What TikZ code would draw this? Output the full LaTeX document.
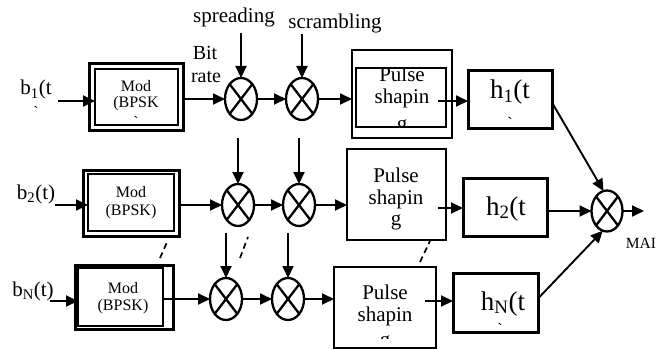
\documentclass[tikz,border=0pt]{standalone}
\usepackage{fontspec}
\setmainfont{Liberation Serif}
\usetikzlibrary{arrows.meta,shapes.geometric}
\newcommand\fmain{\fontsize{21}{25}\selectfont}
\newcommand\fbit{\fontsize{20}{23}\selectfont}
\newcommand\fmod{\fontsize{16}{19}\selectfont}
\newcommand\fhh{\fontsize{27}{30}\selectfont}
\newcommand\fmai{\fontsize{15.5}{18}\selectfont}
\begin{document}
\begin{tikzpicture}[x=1pt,y=-1pt,
  arr/.style={line width=1.9pt,-{Triangle[length=12pt,width=11pt]}},
  dsh/.style={line width=1.7pt,dash pattern=on 6pt off 4pt},
  bx/.style={draw,line width=#1,inner sep=0pt,outer sep=0pt},
  mult/.style={draw,ellipse,line width=2.3pt,minimum width=32pt,minimum height=42pt,inner sep=0pt,outer sep=0pt,
    path picture={\draw[line width=2.3pt] (path picture bounding box.north west)--(path picture bounding box.south east)
      (path picture bounding box.north east)--(path picture bounding box.south west);}},
  tx/.style={anchor=base,inner sep=0pt}
]
\useasboundingbox (0,0) rectangle (668,350);

% ---------- Row 1 ----------
\node[tx,font=\fmain] (b1) at (36,95) {b\textsubscript{1}(t};
\node[font=\fmod,inner sep=0pt] (b1m) at (36,112) {\textasciigrave};
\node[bx=3pt,minimum width=94pt,minimum height=66pt] (mod1o) at (136,97) {};
\node[bx=1.8pt,minimum width=83pt,minimum height=56pt] (mod1i) at (136.5,97) {};
\node[tx,font=\fmod] (mod1a) at (136,92) {Mod};
\node[tx,font=\fmod] (mod1b) at (136,107) {(BPSK};
\node[font=\fmod,inner sep=0pt] (mod1m) at (136,122) {\textasciigrave};
\node[tx,font=\fbit] (bit) at (205,60) {Bit};
\node[tx,font=\fbit] (rate) at (206,83) {rate};
\node[tx,font=\fmain] (spr) at (234,23) {spreading};
\node[tx,font=\fmain] (scr) at (335,29) {scrambling};
\node[mult] (c1a) at (241,99) {};
\node[mult] (c1b) at (302,99) {};
\node[bx=2.6pt,minimum width=100pt,minimum height=88pt] (pul1o) at (402,94) {};
\node[bx=2.4pt,minimum width=90pt,minimum height=59pt] (pul1i) at (401,97.5) {};
\begin{scope}
  \clip (356,68) rectangle (446,127);
  \node[tx,font=\fmain] (pul1a) at (402,82) {Pulse};
  \node[tx,font=\fmain] (pul1b) at (402,103) {shapin};
  \node[tx,font=\fmain] (pul1c) at (402,130) {g};
\end{scope}
\node[bx=3pt,minimum width=84pt,minimum height=57pt] (h1) at (510,99.5) {};
\node[tx,font=\fhh] (h1t) at (510,99) {h\textsubscript{1}(t};
\node[font=\fmod,inner sep=0pt] (h1m) at (510,123) {\textasciigrave};

\coordinate (b1s) at (58,101);
\draw[arr] (b1s) -- (b1s -| mod1i.west);
\draw[arr] (mod1o.east |- c1a.west) -- (c1a.west);
\draw[arr] (c1a.east) -- (c1b.west);
\draw[arr] (c1b.east) -- (c1b.east -| pul1o.west);
\coordinate (sp1) at (241,33);
\coordinate (sc1) at (302,34);
\draw[arr] (sp1) -- (c1a.north);
\draw[arr] (sc1) -- (c1b.north);
\coordinate (p1o) at (438,101);
\draw[arr] (p1o) -- (p1o -| h1.west);

% ---------- Row 2 ----------
\node[tx,font=\fmain] (b2) at (36,199) {b\textsubscript{2}(t)};
\node[bx=3pt,minimum width=96pt,minimum height=66pt] (mod2o) at (131,203) {};
\node[bx=1.8pt,minimum width=86pt,minimum height=57pt] (mod2i) at (131,202.5) {};
\node[tx,font=\fmod] (mod2a) at (131,197) {Mod};
\node[tx,font=\fmod] (mod2b) at (131,215) {(BPSK)};
\node[mult] (c2a) at (238,205) {};
\node[mult] (c2b) at (299,205) {};
\node[bx=2.6pt,minimum width=99pt,minimum height=91pt] (pul2) at (396.5,194.5) {};
\node[tx,font=\fmain] (pul2a) at (396,182) {Pulse};
\node[tx,font=\fmain] (pul2b) at (396,204) {shapin};
\node[tx,font=\fmain] (pul2c) at (396,225) {g};
\node[bx=3pt,minimum width=84pt,minimum height=58pt] (h2) at (505,207) {};
\node[tx,font=\fhh] (h2t) at (506,215) {h\textsubscript{2}(t};

\coordinate (b2s) at (55,205);
\draw[arr] (b2s) -- (b2s -| mod2i.west);
\draw[arr] (mod2o.east |- c2a.west) -- (c2a.west);
\draw[arr] (c2a.east) -- (c2b.west);
\draw[arr] (c2b.east) -- (c2b.east -| pul2.west);
\coordinate (sp2) at (238,138);
\coordinate (sc2) at (299,138);
\draw[arr] (sp2) -- (c2a.north);
\draw[arr] (sc2) -- (c2b.north);
\coordinate (p2o) at (438,208);
\draw[arr] (p2o) -- (p2o -| h2.west);

% ---------- Row 3 ----------
\node[tx,font=\fmain] (bN) at (33,296) {b\textsubscript{N}(t)};
\node[bx=3pt,minimum width=98pt,minimum height=64pt] (mod3o) at (124,297) {};
\node[bx=1.8pt,minimum width=85pt,minimum height=58pt] (mod3i) at (120.5,297) {};
\node[tx,font=\fmod] (mod3a) at (123,293) {Mod};
\node[tx,font=\fmod] (mod3b) at (123,310) {(BPSK)};
\node[mult] (c3a) at (226,299) {};
\node[mult] (c3b) at (288,299) {};
\node[bx=2.6pt,minimum width=102pt,minimum height=81pt] (pul3) at (385,307.5) {};
\begin{scope}
  \clip (336,269) rectangle (434,338);
  \node[tx,font=\fmain] (pul3a) at (385,299) {Pulse};
  \node[tx,font=\fmain] (pul3b) at (385,321) {shapin};
  \node[tx,font=\fmain] (pul3c) at (385,346) {g};
\end{scope}
\node[bx=3pt,minimum width=85pt,minimum height=59pt] (hN) at (495.5,302.5) {};
\node[tx,font=\fhh] (hNt) at (503,310) {h\textsubscript{N}(t};
\node[font=\fmod,inner sep=0pt] (hNm) at (500,329) {\textasciigrave};

\coordinate (bNs) at (50,301);
\draw[arr] (bNs) -- (bNs -| mod3i.west);
\draw[arr] (mod3i.east |- c3a.west) -- (c3a.west);
\draw[arr] (c3a.east) -- (c3b.west);
\draw[arr] (c3b.east) -- (c3b.east -| pul3.west);
\coordinate (sp3) at (226,233);
\coordinate (sc3) at (288,233);
\draw[arr] (sp3) -- (c3a.north);
\draw[arr] (sc3) -- (c3b.north);
\coordinate (p3o) at (425,301);
\draw[arr] (p3o) -- (p3o -| hN.west);

% dashed continuation marks
\coordinate (d1a) at (160,258); \coordinate (d1b) at (168,240);
\coordinate (d2a) at (240,258); \coordinate (d2b) at (248,237);
\coordinate (d3a) at (420,262); \coordinate (d3b) at (430,241);
\draw[dsh] (d1a) -- (d1b);
\draw[dsh] (d2a) -- (d2b);
\draw[dsh] (d3a) -- (d3b);

% ---------- Combiner ----------
\node[mult,minimum width=31pt,minimum height=41pt] (mai) at (607,211) {};
\node[tx,font=\fmai] (mait) at (641,248) {MAI};
\draw[arr] ([yshift=-3pt]h1.east) -- (mai.100);
\draw[arr] (h2.east |- mai.west) -- (mai.west);
\draw[arr] ([yshift=4pt]hN.east) -- (mai.-102);
\coordinate (maiout) at (644,211);
\draw[arr] (mai.east) -- (maiout);
\end{tikzpicture}
\end{document}
